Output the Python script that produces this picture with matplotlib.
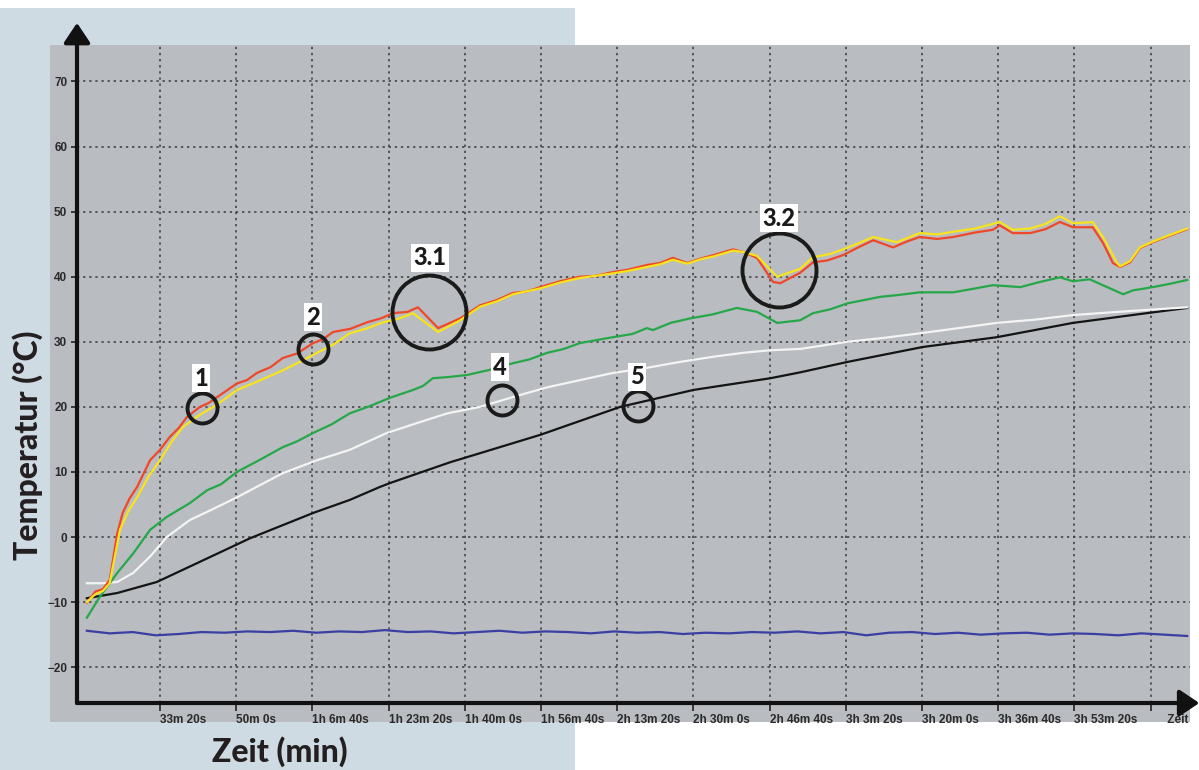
import numpy as np
import matplotlib
matplotlib.use("Agg")
import matplotlib.pyplot as plt
from matplotlib.patches import Rectangle
import matplotlib.transforms as mtransforms

W, H = 1199, 770

# time in seconds, temperature in degC
red_t = [1040, 1150, 1250, 1340, 1440, 1510, 1600, 1700, 1870, 2000, 2130, 2250, 2350, 2525, 2640, 2750,
         3010, 3140, 3270, 3450, 3610, 3800, 4010, 4140, 4270, 4500, 4720, 4900, 5060, 5250, 5385, 5650,
         5940, 6200, 6420, 6630, 6800, 6990, 7250, 7510, 7700, 7940, 8150, 8390, 8560, 8730, 8920, 9100,
         9260, 9520, 9650, 9835, 10045, 10140, 10400, 10570, 10760, 10960, 11180, 11360, 11620, 11800,
         11970, 12200, 12410, 12700, 12930, 13020, 13190, 13420, 13620, 13810, 13980, 14240, 14375, 14505,
         14600, 14730, 14860, 15030, 15250, 15480]
red_v = [-10.1, -8.4, -8.0, -6.6, 0.6, 3.7, 5.9, 7.7, 11.8, 13.4, 15.4, 16.8, 18.4, 20.0, 20.6, 21.5,
         23.6, 24.1, 25.2, 26.1, 27.5, 28.2, 29.8, 30.4, 31.5, 32.0, 33.0, 33.6, 34.4, 34.6, 35.3, 32.1,
         33.6, 35.6, 36.4, 37.5, 37.7, 38.4, 39.3, 40.0, 40.1, 40.7, 41.1, 41.8, 42.1, 42.9, 42.1, 42.8,
         43.3, 44.2, 43.8, 42.9, 39.2, 39.0, 40.6, 42.2, 42.5, 43.3, 44.6, 45.6, 44.5, 45.4,
         46.1, 45.8, 46.1, 46.8, 47.2, 47.9, 46.7, 46.7, 47.3, 48.4, 47.6, 47.6, 45.2, 42.1,
         41.5, 42.2, 44.4, 45.3, 46.3, 47.3]

yellow_t = [1040, 1150, 1250, 1340, 1475, 1580, 1700, 1850, 2000, 2150, 2300, 2500, 2700, 2850, 3010, 3300,
            3610, 3850, 4060, 4280, 4490, 4700, 4930, 5120, 5320, 5650, 5940, 6200, 6420, 6630, 6990, 7250,
            7510, 7940, 8150, 8390, 8560, 8730, 8920, 9100, 9260, 9520, 9650, 9835, 10100, 10400, 10570,
            10800, 11010, 11200, 11360, 11670, 11970, 12200, 12410, 12700, 13020, 13190, 13420, 13620,
            13810, 13980, 14240, 14375, 14560, 14600, 14730, 14860, 15030, 15250, 15480]
yellow_v = [-10.0, -8.8, -8.3, -7.1, 1.1, 3.9, 6.1, 9.3, 11.8, 14.6, 16.9, 18.6, 20.0, 21.2, 22.6, 24.0,
            25.6, 27.0, 28.3, 29.6, 31.3, 32.0, 33.0, 33.5, 34.4, 31.5, 33.3, 35.4, 36.2, 37.3, 38.2, 39.1,
            39.8, 40.5, 40.9, 41.5, 41.9, 42.6, 42.0, 42.7, 43.1, 44.0, 43.8, 43.2, 40.0, 41.2, 43.0,
            43.5, 44.4, 45.3, 46.1, 45.3, 46.7, 46.5, 46.9, 47.4, 48.4, 47.2, 47.4, 48.1,
            49.3, 48.2, 48.4, 46.1, 42.1, 41.6, 42.4, 44.5, 45.4, 46.4, 47.4]

green_t = [1040, 1210, 1440, 1650, 1870, 2090, 2390, 2620, 2800, 3010, 3300, 3610, 3800, 4010, 4250, 4490,
           4750, 5020, 5320, 5450, 5580, 5800, 6030, 6330, 6630, 6850, 7080, 7300, 7510, 7940, 8200, 8390,
           8470, 8700, 8960, 9250, 9570, 9835, 10100, 10400, 10570, 10800, 11020, 11450, 11700, 11970,
           12410, 12700, 12930, 13290, 13550, 13810, 13980, 14200, 14430, 14640, 14770, 15030, 15250, 15480]
green_v = [-12.4, -9.2, -5.5, -2.5, 1.1, 3.1, 5.2, 7.2, 8.1, 10.0, 11.8, 13.8, 14.7, 16.0, 17.3, 19.0,
           20.1, 21.4, 22.6, 23.2, 24.4, 24.6, 24.9, 25.7, 26.7, 27.3, 28.3, 28.9, 29.8, 30.7, 31.2, 32.1,
           31.8, 32.9, 33.6, 34.2, 35.2, 34.6, 32.9, 33.3, 34.4, 35.0, 35.9, 36.9, 37.2, 37.6,
           37.6, 38.2, 38.7, 38.4, 39.2, 39.9, 39.3, 39.6, 38.4, 37.3, 37.9, 38.4, 38.9, 39.5]

white_t = [1040, 1250, 1440, 1650, 1870, 2090, 2390, 2660, 3010, 3300, 3610, 4060, 4490, 4980, 5370,
           5770, 6200, 6630, 7080, 7510, 7940, 8390, 8820, 9260, 9650, 10010, 10400, 11020, 11500, 11970,
           12480, 12980, 13480, 13980, 14450, 14950, 15480]
white_v = [-7.1, -7.1, -6.9, -5.5, -3.0, 0.0, 2.6, 4.1, 6.1, 7.9, 9.8, 11.8, 13.4, 16.0, 17.5,
           19.0, 20.0, 21.5, 23.0, 24.1, 25.2, 26.0, 26.9, 27.7, 28.3, 28.7, 28.9, 30.0, 30.6, 31.3,
           32.1, 32.9, 33.4, 34.1, 34.5, 34.9, 35.3]

black_t = [1040, 1440, 1960, 2525, 3180, 4010, 4490, 4887, 5020, 5810, 5980, 6990, 8040, 9000, 10010,
           10400, 11020, 12010, 12980, 13980, 14950, 15480]
black_v = [-9.4, -8.6, -6.9, -3.8, -0.2, 3.7, 5.7, 7.7, 8.3, 11.5, 12.1, 15.7, 20.0, 22.6, 24.4,
           25.3, 26.9, 29.2, 30.7, 32.9, 34.4, 35.2]

blue_v = [-14.4, -14.8, -14.6, -15.1, -14.9, -14.6, -14.7, -14.5, -14.6, -14.4, -14.7, -14.5, -14.6,
          -14.3, -14.6, -14.5, -14.8, -14.6, -14.4, -14.7, -14.5, -14.6, -14.8, -14.5, -14.7, -14.6,
          -14.9, -14.7, -14.8, -14.6, -14.7, -14.5, -14.8, -14.6, -15.1, -14.7, -14.6, -14.9, -14.7,
          -15.0, -14.8, -14.7, -15.0, -14.8, -14.9, -15.1, -14.8, -15.0, -15.2]
blue_t = np.linspace(1040, 15480, len(blue_v))

tick_pos = list(range(2000, 16000, 1000))
tick_lab = ["33m 20s", "50m 0s", "1h 6m 40s", "1h 23m 20s", "1h 40m 0s", "1h 56m 40s", "2h 13m 20s",
            "2h 30m 0s", "2h 46m 40s", "3h 3m 20s", "3h 20m 0s", "3h 36m 40s", "3h 53m 20s", "     Zeit"]

# marks: label, circle centre (t, T), circle diameter px, label pos (t, T)
marks = [("1", 2551, 19.8, 30, 2538, 24.4),
         ("2", 4008, 28.9, 30, 4008, 33.8),
         ("3.1", 5530, 34.6, 74, 5543, 42.9),
         ("3.2", 10123, 41.0, 74, 10123, 49.0),
         ("4", 6488, 21.0, 30, 6462, 26.1),
         ("5", 8273, 20.1, 30, 8260, 24.6)]

fig = plt.figure(figsize=(W / 100, H / 100), dpi=100)
fig.add_artist(Rectangle((0, 0), 575 / W, (H - 8) / H, transform=fig.transFigure,
                         facecolor="#cfdbe2", edgecolor="none", zorder=-3))
fig.add_artist(Rectangle((50 / W, 1 - 722 / H), 1140 / W, 677 / H, transform=fig.transFigure,
                         facecolor="#b9bcc0", edgecolor="none", zorder=-2))

ax = fig.add_axes([77 / W, 1 - 703 / H, 1113 / W, 658 / H])
ax.set_facecolor("none")
x0, x1 = 911, 15517
y0, y1 = -25.5, 75.6
ax.set_xlim(x0, x1)
ax.set_ylim(y0, y1)
for s in ax.spines.values():
    s.set_visible(False)

ax.grid(True, color="#3a3a3a", linestyle=(0, (1.5, 2.5)), linewidth=1.1)
ax.set_yticks(range(-20, 80, 10))
ax.set_xticks(tick_pos)
ax.set_xticklabels(tick_lab, ha="left")
tick_font = ["Liberation Sans Narrow", "Liberation Sans", "DejaVu Sans"]
for lab in ax.get_xticklabels() + ax.get_yticklabels():
    lab.set_family(tick_font)
    lab.set_fontweight("bold")
    lab.set_color("#2a2a2a")
    lab.set_fontsize(8.5)
off = mtransforms.ScaledTranslation(2 / 100, 0, fig.dpi_scale_trans)
for lab in ax.get_xticklabels():
    lab.set_transform(lab.get_transform() + off)
ax.tick_params(axis="x", direction="out", length=6, width=1.2, color="#222", pad=2)
ax.tick_params(axis="y", direction="out", length=4, width=1.2, color="#222", pad=3)

lw = 1.6
ax.plot(blue_t, blue_v, color="#3b3ea3", lw=lw)
ax.plot(black_t, black_v, color="#141414", lw=lw)
ax.plot(white_t, white_v, color="#f4f4f4", lw=lw)
ax.plot(green_t, green_v, color="#25a84a", lw=lw)
ax.plot(red_t, red_v, color="#f0472a", lw=lw)
ax.plot(yellow_t, yellow_v, color="#f7e41c", lw=lw)

# axis arrows
arrow = dict(arrowstyle="-|>,head_length=0.6,head_width=0.4", lw=3, color="#111", mutation_scale=20,
             shrinkA=0, shrinkB=0)
ax.annotate("", xy=(x0, 79.0), xytext=(x0, y0), arrowprops=arrow, annotation_clip=False)
ax.annotate("", xy=(15640, y0), xytext=(x0, y0), arrowprops=arrow, annotation_clip=False)

for lab, ct, cv, d, lt, lv in marks:
    ax.plot([ct], [cv], marker="o", markersize=d * 0.72, markerfacecolor="none",
            markeredgecolor="#1a1a1a", markeredgewidth=2.8, clip_on=False)
    ax.text(lt, lv, lab, ha="center", va="center", fontsize=17, fontweight="black", family="Lato",
            color="#1a1a1a", bbox=dict(boxstyle="square,pad=0.1", facecolor="white", edgecolor="none"))

fig.text(28 / W, 1 - 445 / H, "Temperatur (°C)", rotation=90, ha="center", va="center",
         fontsize=23, fontweight="black", family="Lato", color="#231f20")
fig.text(280 / W, 1 - 752 / H, "Zeit (min)", ha="center", va="center",
         fontsize=23, fontweight="black", family="Lato", color="#231f20")

fig.savefig("out.png", dpi=100)
